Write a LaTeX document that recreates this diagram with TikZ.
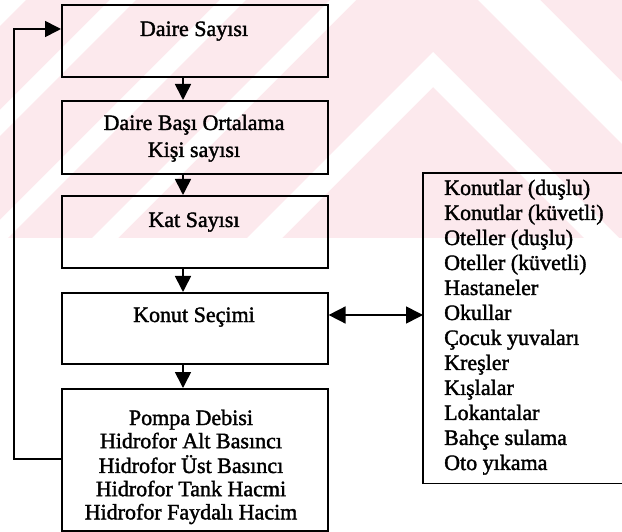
\documentclass[tikz,border=0pt]{standalone}
\usepackage{fontspec}
\setmainfont[FakeBold=1.6,AutoFakeBold=1.6]{Liberation Serif}
\usetikzlibrary{arrows.meta}
\definecolor{wm}{RGB}{252,233,237}
\newcommand\fsz[2]{\fontsize{#1}{#2}\selectfont}
\begin{document}
\begin{tikzpicture}[x=1pt,y=-1pt,
  box/.style={draw, line width=1.6pt, inner sep=0pt, rectangle, minimum width=266pt, anchor=north west},
  lbl/.style={inner sep=0pt, anchor=base, font=\fsz{22}{23.3}\bfseries},
  conn/.style={line width=1.6pt},
  arr/.style={conn, -{Triangle[length=16pt,width=16pt]}},
  arrtwo/.style={conn, {Triangle[length=17pt,width=17pt]}-{Triangle[length=17pt,width=17pt]}}]
\useasboundingbox (0,0) rectangle (622,532);
% watermark
\fill[wm] (0,0) rectangle (622,238);
\begin{scope}
  \clip (0,0) rectangle (622,238);
  \foreach \c in {0,110,220,330}
    \fill[white] (\c,0) -- (\c+26,0) -- (\c-234,260) -- (\c-260,260) -- cycle;
  \fill[white] (247,238) -- (433,52) -- (619,238) -- (584,238) -- (433,87) -- (282,238) -- cycle;
  \fill[white] (478,0) -- (540,0) -- (622,82) -- (622,144) -- cycle;
\end{scope}
% boxes
\node[box, minimum height=72pt] (B1) at (61,4) {};
\node[box, minimum height=73pt] (B2) at (61,100) {};
\node[box, minimum height=72pt] (B3) at (61,195) {};
\node[box, minimum height=71pt] (B4) at (61,292) {};
\node[box, minimum height=142pt] (B5) at (61,388) {};
\node[inner sep=0pt, minimum width=199pt, minimum height=310pt, anchor=north west] (R) at (423,173) {};
\draw[conn] (R.north east) -- (R.north west) -- (R.south west) -- (R.south east);
% texts
\node[lbl] (T1) at (194,36) {Daire Sayısı};
\node[lbl, font=\fsz{22}{27}\bfseries] (T2) at (194,130) {\begin{tabular}[t]{@{}c@{}}Daire Başı Ortalama\\Kişi sayısı\end{tabular}};
\node[lbl] (T3) at (194,227) {Kat Sayısı};
\node[lbl] (T4) at (194,322) {Konut Seçimi};
\node[lbl, font=\fsz{22}{23.2}\bfseries] (T5) at (191,425) {\begin{tabular}[t]{@{}c@{}}Pompa Debisi\\Hidrofor Alt Basıncı\\Hidrofor Üst Basıncı\\Hidrofor Tank Hacmi\\Hidrofor Faydalı Hacim\end{tabular}};
\node[lbl, anchor=base west, font=\fsz{22}{25}\bfseries] (TR) at (444,195) {\begin{tabular}[t]{@{}l@{}}Konutlar (duşlu)\\Konutlar (küvetli)\\Oteller (duşlu)\\Oteller (küvetli)\\Hastaneler\\Okullar\\Çocuk yuvaları\\Kreşler\\Kışlalar\\Lokantalar\\Bahçe sulama\\Oto yıkama\end{tabular}};
% connectors
\coordinate (ax) at (183,0);
\draw[arr] (B1.south -| ax) -- (B2.north -| ax);
\draw[arr] (B2.south -| ax) -- (B3.north -| ax);
\draw[arr] (B3.south -| ax) -- (B4.north -| ax);
\draw[arr] (B4.south -| ax) -- (B5.north -| ax);
\coordinate (f1) at (14,459);
\coordinate (f2) at (14,29);
\draw[arr] (B5.west |- f1) -- (f1) -- (f2) -- (B1.west |- f2);
\coordinate (dy) at (0,315);
\draw[arrtwo] (B4.east |- dy) -- (R.west |- dy);
\end{tikzpicture}
\end{document}
